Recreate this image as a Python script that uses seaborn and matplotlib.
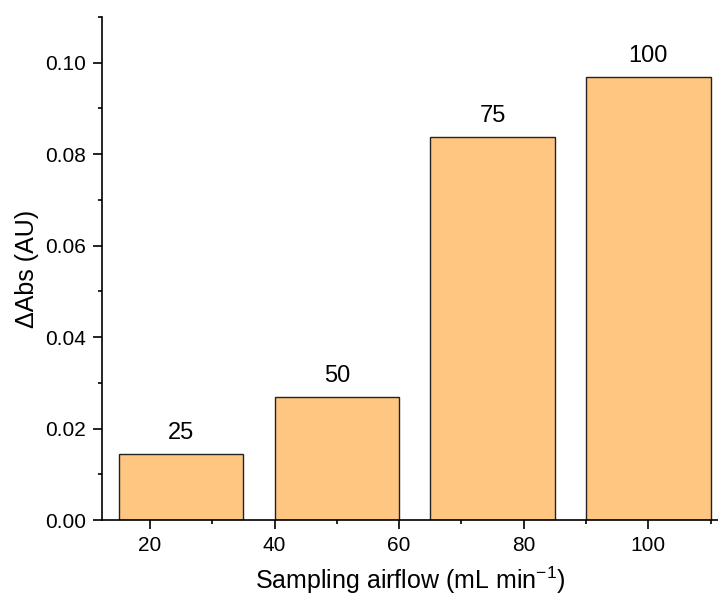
import numpy as np
import pandas as pd
import matplotlib
matplotlib.use("Agg")
import matplotlib.pyplot as plt
import matplotlib.ticker as mticker
import seaborn as sns

# data
airflow = [25, 50, 75, 100]
dabs = [0.0145, 0.027, 0.0838, 0.0969]
bar_labels = ["25", "50", "75", "100"]
xticks = [20, 40, 60, 80, 100]

sns.set_theme(style="ticks")
plt.rcParams["font.family"] = ["Liberation Sans", "DejaVu Sans"]
plt.rcParams["mathtext.fontset"] = "custom"
plt.rcParams["mathtext.rm"] = "Liberation Sans"
plt.rcParams["mathtext.default"] = "regular"
plt.rcParams["text.color"] = "black"
plt.rcParams["axes.labelcolor"] = "black"

df = pd.DataFrame({"airflow": airflow, "dabs": dabs})

fig = plt.figure(figsize=(7.18, 6.02), dpi=100)
ax = fig.add_axes([102 / 718, 82 / 602, 616 / 718, 503 / 602])

sns.barplot(data=df, x="airflow", y="dabs", native_scale=True, width=0.8,
            color="#FFC682", saturation=1, edgecolor="#222222", linewidth=1.0,
            ax=ax)

for x, y, t in zip(airflow, dabs, bar_labels):
    ax.annotate(t, (x, y), xytext=(0, 7), textcoords="offset points",
                ha="center", va="bottom", fontsize=17, color="black")

ax.set_xlim(12.3, 111.2)
ax.set_ylim(0, 0.11)
ax.set_xticks(xticks)
ax.xaxis.set_minor_locator(mticker.MultipleLocator(10))
ax.yaxis.set_major_locator(mticker.MultipleLocator(0.02))
ax.yaxis.set_minor_locator(mticker.MultipleLocator(0.01))
ax.yaxis.set_major_formatter(mticker.FormatStrFormatter("%.2f"))

for s in ("top", "right"):
    ax.spines[s].set_visible(False)
for s in ("left", "bottom"):
    ax.spines[s].set_linewidth(1.2)
    ax.spines[s].set_color("black")
ax.tick_params(which="major", direction="out", length=6.5, width=1.2,
               labelsize=15, colors="black", pad=5)
ax.tick_params(which="minor", direction="out", length=3, width=1.2,
               colors="black")

ax.set_xlabel("Sampling airflow (mL min$^{-1}$)", fontsize=18, labelpad=7)
ax.set_ylabel("\u0394Abs (AU)", fontsize=18, labelpad=4)

fig.savefig("out.png", dpi=100)
